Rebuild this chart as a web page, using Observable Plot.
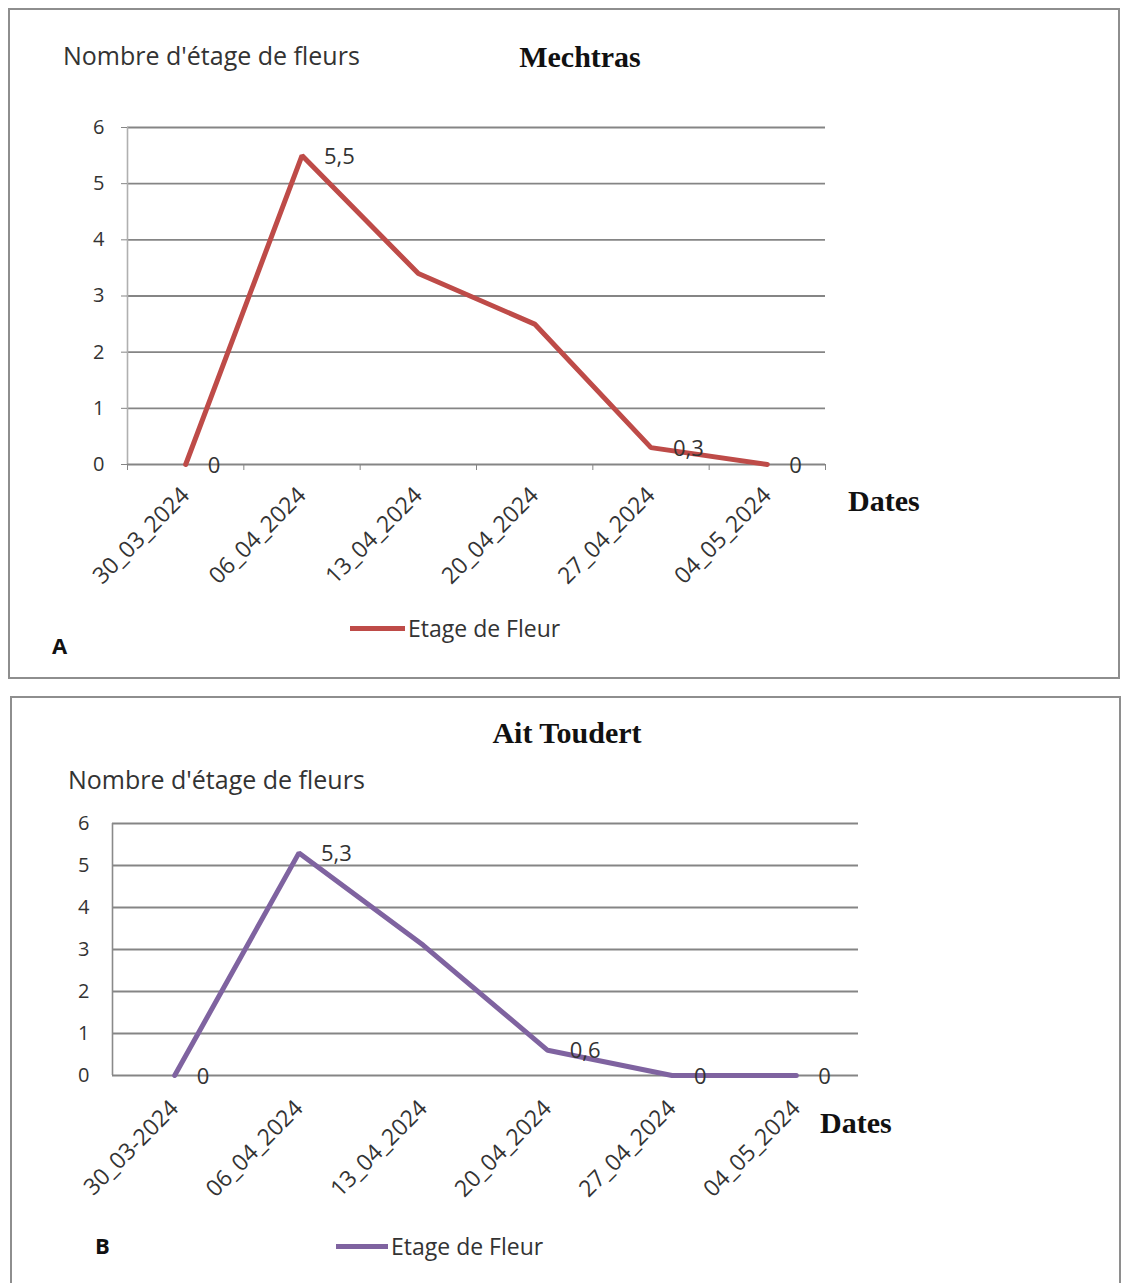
<!DOCTYPE html>
<html>
<head>
<meta charset="utf-8">
<script src="https://cdn.jsdelivr.net/npm/d3@7"></script>
<script src="https://cdn.jsdelivr.net/npm/@observablehq/plot@0.6"></script>
<style>
  body { margin: 0; background: #fff; }
  #page { position: relative; width: 1121px; height: 1283px; overflow: hidden;
          font-family: "Open Sans", sans-serif; color: #333; }
  .panel { position: absolute; border: 2px solid #8e8e8e; box-sizing: border-box; background: #fff; }
  .abs { position: absolute; white-space: nowrap; line-height: 1; }
  .serif { font-family: "Liberation Serif", "Times New Roman", serif; font-weight: bold; color: #111; font-size: 30px; }
  .ylab { font-size: 25px; }
  .legend { font-size: 23px; display: flex; align-items: center; }
  .legend span.swatch { display: inline-block; width: 55px; height: 5px; margin-right: 3px; }
  .letter { font-family: "Open Sans", sans-serif; font-weight: bold; font-size: 22px; color: #111; }
  .chart { position: absolute; left: 0; }
</style>
</head>
<body>
<div id="page">
  <div class="panel" style="left:8px;top:8px;width:1112px;height:671px;"></div>
  <div class="panel" style="left:10px;top:696px;width:1111px;height:620px;"></div>

  <div id="chartA" class="chart" style="top:0px;"></div>
  <div id="chartB" class="chart" style="top:695px;"></div>

  <!-- Panel A texts -->
  <div class="abs ylab" style="left:63px;top:43px;">Nombre d'étage de fleurs</div>
  <div class="abs serif" style="left:580px;top:42px;transform:translateX(-50%);">Mechtras</div>
  <div class="abs serif" style="left:848px;top:486px;">Dates</div>
  <div class="abs legend" style="left:350px;top:617px;"><span class="swatch" style="background:#be4b48"></span>Etage de Fleur</div>
  <div class="abs letter" style="left:52px;top:634px;">A</div>

  <!-- Panel B texts -->
  <div class="abs serif" style="left:567px;top:718px;transform:translateX(-50%);">Ait Toudert</div>
  <div class="abs ylab" style="left:68px;top:767px;">Nombre d'étage de fleurs</div>
  <div class="abs serif" style="left:820px;top:1108px;">Dates</div>
  <div class="abs legend" style="left:336px;top:1235px;"><span class="swatch" style="background:#7f63a0;width:52px"></span>Etage de Fleur</div>
  <div class="abs letter" style="left:95px;top:1234px;">B</div>
</div>

<script>
// Sampling dates (x categories) for each site
const datesMechtras = ["30_03_2024", "06_04_2024", "13_04_2024", "20_04_2024", "27_04_2024", "04_05_2024"];
const datesAitToudert = ["30_03-2024", "06_04_2024", "13_04_2024", "20_04_2024", "27_04_2024", "04_05_2024"];

// Number of flower stages per date
const mechtras = [0, 5.5, 3.4, 2.5, 0.3, 0];
const aitToudert = [0, 5.3, 3.1, 0.6, 0, 0];

// Which points carry a value label
const labelledMechtras = [0, 1, 4, 5];
const labelledAitToudert = [0, 1, 3, 4, 5];

const yTicks = [0, 1, 2, 3, 4, 5, 6];
const gridTicks = [1, 2, 3, 4, 5, 6];

const fmt = v => String(v).replace(".", ",");
const FONT = "Open Sans";

function chart({dates, values, labelled, color, height, margins, tickMarks, yPad, xPad}) {
  const rows = values.map((v, i) => ({i, v}));
  const boundaries = d3.range(dates.length + 1).map(k => k - 0.5);
  return Plot.plot({
    width: 1121,
    height,
    ...margins,
    style: {background: "transparent", overflow: "visible", fontFamily: FONT},
    x: {type: "linear", domain: [-0.5, dates.length - 0.5]},
    y: {domain: [0, 6]},
    marks: [
      Plot.gridY(gridTicks, {stroke: "#858585", strokeOpacity: 1, strokeWidth: 1.8}),
      Plot.ruleX([-0.5], {stroke: tickMarks ? "#b0b0b0" : "#8a8a8a", strokeWidth: 1.6}),
      Plot.ruleY([0], {stroke: "#858585", strokeWidth: 1.8}),
      Plot.axisY(yTicks, {
        tickSize: tickMarks ? 6 : 0, tickPadding: yPad, stroke: "#858585",
        tickFormat: d => String(d),
        fontSize: 20, fill: "#333", label: null
      }),
      tickMarks
        ? Plot.axisX(boundaries, {tickSize: 6, tickFormat: () => "", stroke: "#858585", label: null})
        : null,
      Plot.axisX(d3.range(dates.length), {
        tickSize: 0, tickPadding: xPad, tickRotate: -45,
        tickFormat: i => dates[i], fontSize: 23, fill: "#333",
        textAnchor: "end", label: null
      }),
      Plot.line(rows, {x: "i", y: "v", stroke: color, strokeWidth: 5, strokeLinejoin: "miter"}),
      Plot.text(rows.filter(d => labelled.includes(d.i)), {
        x: "i", y: "v", text: d => fmt(d.v), dx: 22, dy: 1,
        textAnchor: "start", fontSize: 22, fill: "#333"
      })
    ]
  });
}

document.getElementById("chartA").append(chart({
  dates: datesMechtras, values: mechtras, labelled: labelledMechtras, color: "#be4b48",
  height: 680,
  margins: {marginLeft: 127, marginRight: 296, marginTop: 127, marginBottom: 216},
  tickMarks: true, yPad: 17, xPad: 27
}));

document.getElementById("chartB").append(chart({
  dates: datesAitToudert, values: aitToudert, labelled: labelledAitToudert, color: "#7f63a0",
  height: 588,
  margins: {marginLeft: 112, marginRight: 263, marginTop: 128, marginBottom: 208},
  tickMarks: false, yPad: 23, xPad: 29
}));
</script>
</body>
</html>
